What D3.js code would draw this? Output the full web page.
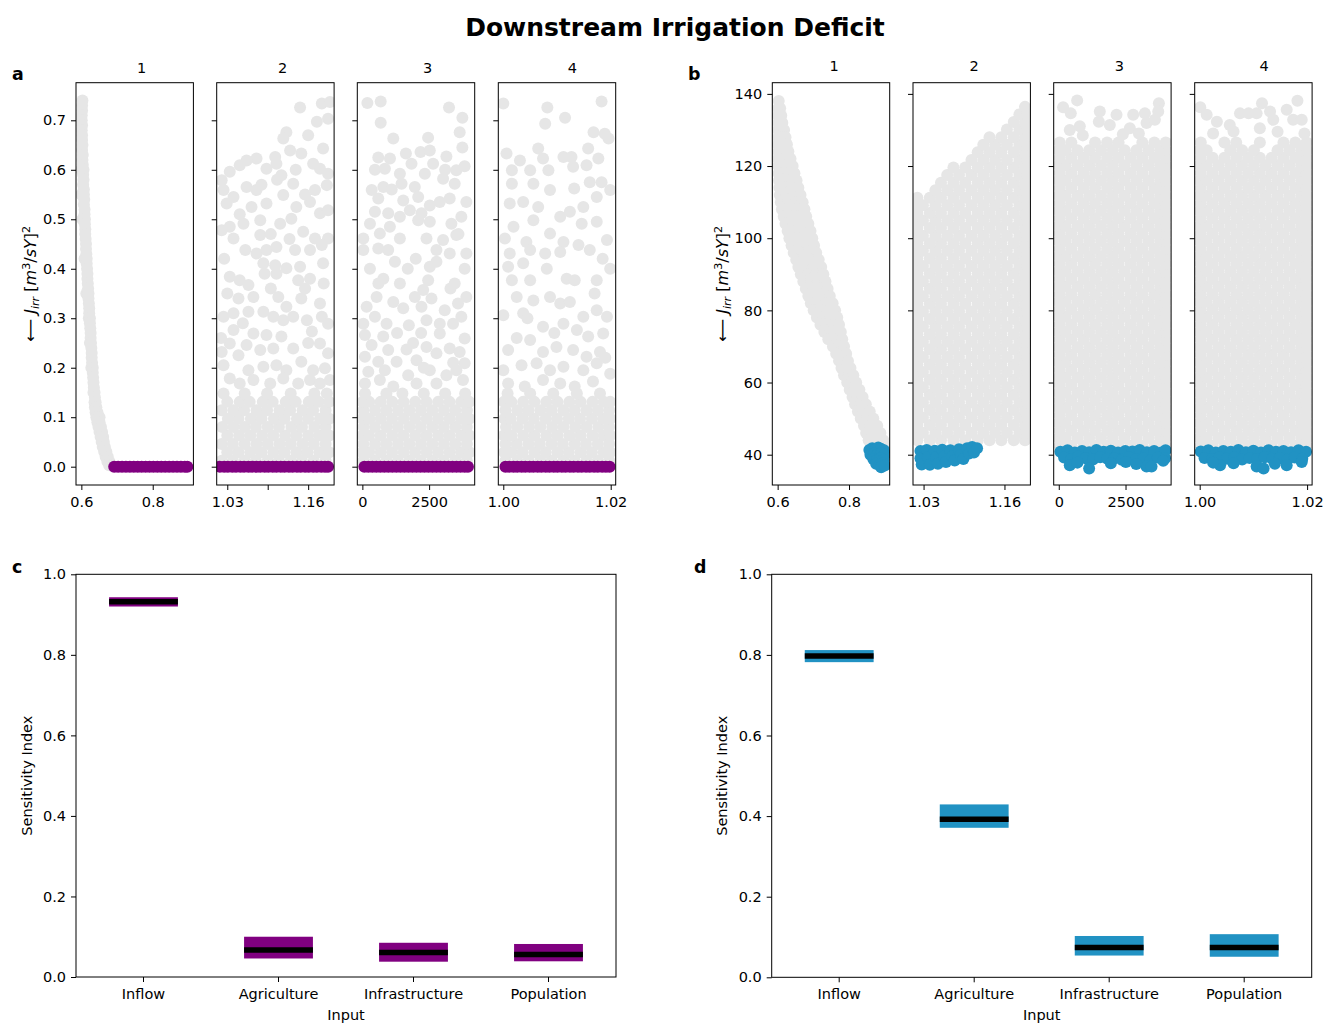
<!DOCTYPE html>
<html>
<head>
<meta charset="utf-8">
<script src="https://cdn.jsdelivr.net/npm/d3@7"></script>
<style>
  body { margin: 0; background: #fff; }
  svg { font-family: "DejaVu Sans", sans-serif; }
</style>
</head>
<body>
<svg id="chart" width="1325" height="1025"></svg>
<script>
// ---------------- data ----------------
const inputs = ['Inflow', 'Agriculture', 'Infrastructure', 'Population'];
const subTitles = ['1', '2', '3', '4'];

// sensitivity index boxes (low, median, high)
const cLow = [0.920, 0.046, 0.038, 0.039];
const cMed = [0.932, 0.067, 0.061, 0.056];
const cHigh = [0.943, 0.100, 0.085, 0.082];
const dLow = [0.782, 0.371, 0.054, 0.051];
const dMed = [0.797, 0.392, 0.074, 0.074];
const dHigh = [0.812, 0.429, 0.1025, 0.107];

const sensTicks = [0, 0.2, 0.4, 0.6, 0.8, 1.0];
const aYTicks = [0, 0.1, 0.2, 0.3, 0.4, 0.5, 0.6, 0.7];
const bYTicks = [40, 60, 80, 100, 120, 140];
const aXTicks = [[0.6, 0.8], [1.03, 1.095, 1.16], [0, 2500], [1.00, 1.02]];
const aXTickLabels = [['0.6', '0.8'], ['1.03', '', '1.16'], ['0', '2500'], ['1.00', '1.02']];
const bXTicks = [[0.6, 0.8], [1.03, 1.16], [0, 2500], [1.00, 1.02]];
const bXTickLabels = [['0.6', '0.8'], ['1.03', '1.16'], ['0', '2500'], ['1.00', '1.02']];

const xDomains = [[0.585, 0.914], [1.013, 1.2017], [-190, 4207], [0.99907, 1.02093]];
const aYDomain = [-0.037, 0.776];
const bYDomain = [31.6, 143.1];

// ---- panel a: grey = J_irr > 0 ; *Zero = x of samples with J_irr = 0 ----
const a1Rows = [[0.74,[0.603]],[0.73,[0.602]],[0.72,[0.602]],[0.71,[0.601]],[0.70,[0.601]],[0.69,[0.602]],[0.68,[0.601]],[0.67,[0.602]],[0.66,[0.602]],[0.65,[0.603]],[0.64,[0.602]],[0.63,[0.604]],[0.62,[0.603]],[0.61,[0.604]],[0.60,[0.6,0.606]],[0.59,[0.605]],[0.58,[0.606]],[0.57,[0.605]],[0.56,[0.607]],[0.55,[0.6,0.607]],[0.54,[0.608]],[0.53,[0.607]],[0.52,[0.609]],[0.51,[0.609]],[0.50,[0.603,0.61]],[0.49,[0.61]],[0.48,[0.611]],[0.47,[0.611]],[0.46,[0.612]],[0.45,[0.613]],[0.44,[0.613]],[0.43,[0.614]],[0.42,[0.609,0.615]],[0.41,[0.615]],[0.40,[0.616]],[0.39,[0.617]],[0.38,[0.617]],[0.37,[0.618]],[0.36,[0.619]],[0.35,[0.614,0.62]],[0.34,[0.62]],[0.33,[0.621]],[0.32,[0.622]],[0.31,[0.622]],[0.30,[0.621,0.624]],[0.29,[0.624]],[0.28,[0.625]],[0.27,[0.626]],[0.26,[0.626]],[0.25,[0.624,0.627]],[0.24,[0.628]],[0.23,[0.629]],[0.22,[0.629]],[0.21,[0.63]],[0.20,[0.628,0.632]],[0.19,[0.632]],[0.18,[0.633]],[0.17,[0.634]],[0.16,[0.635]],[0.15,[0.634,0.637]],[0.14,[0.638]],[0.13,[0.637,0.64]],[0.12,[0.638,0.642]],[0.11,[0.64,0.645]],[0.10,[0.642,0.648,0.651]],[0.09,[0.645,0.651]],[0.08,[0.648,0.655]],[0.07,[0.651,0.658]],[0.06,[0.654,0.661]],[0.05,[0.657,0.663]],[0.04,[0.66,0.666]],[0.03,[0.664,0.67]],[0.02,[0.668,0.674]],[0.01,[0.673,0.679]],[0.003,[0.678,0.684]]];
const a1Zero = [0.692,0.703,0.714,0.725,0.736,0.747,0.758,0.769,0.78,0.791,0.802,0.813,0.824,0.835,0.846,0.857,0.868,0.879,0.89,0.897];

const a2Grey = [[1.147,0.726],[1.182,0.734],[1.195,0.737],[1.192,0.703],[1.174,0.697],[1.16,0.67],[1.125,0.676],[1.12,0.663],[1.184,0.643],[1.131,0.639],[1.149,0.633],[1.107,0.626],[1.077,0.623],[1.061,0.619],[1.05,0.609],[1.034,0.596],[1.021,0.579],[1.168,0.612],[1.179,0.602],[1.192,0.592],[1.093,0.602],[1.109,0.612],[1.117,0.589],[1.136,0.572],[1.19,0.569],[1.171,0.559],[1.061,0.565],[1.077,0.559],[1.04,0.545],[1.024,0.559],[1.029,0.532],[1.069,0.525],[1.093,0.532],[1.12,0.549],[1.141,0.525],[1.163,0.535],[1.179,0.512],[1.192,0.518],[1.115,0.491],[1.133,0.501],[1.083,0.498],[1.056,0.491],[1.021,0.478],[1.034,0.485],[1.04,0.461],[1.083,0.468],[1.152,0.475],[1.171,0.461],[1.192,0.461],[1.059,0.438],[1.077,0.431],[1.093,0.438],[1.109,0.444],[1.139,0.438],[1.163,0.438],[1.182,0.448],[1.088,0.411],[1.107,0.407],[1.125,0.401],[1.147,0.404],[1.184,0.411],[1.034,0.384],[1.05,0.377],[1.109,0.39],[1.163,0.38],[1.144,0.377],[1.064,0.367],[1.048,0.34],[1.072,0.343],[1.112,0.343],[1.125,0.323],[1.149,0.34],[1.179,0.33],[1.024,0.303],[1.04,0.31],[1.064,0.313],[1.088,0.313],[1.104,0.303],[1.12,0.296],[1.136,0.303],[1.158,0.296],[1.182,0.303],[1.192,0.289],[1.04,0.276],[1.072,0.269],[1.093,0.266],[1.117,0.263],[1.166,0.273],[1.034,0.249],[1.061,0.246],[1.083,0.236],[1.104,0.239],[1.136,0.239],[1.179,0.249],[1.021,0.232],[1.048,0.225],[1.192,0.229],[1.024,0.205],[1.064,0.195],[1.088,0.202],[1.109,0.205],[1.125,0.195],[1.149,0.212],[1.168,0.195],[1.187,0.199],[1.034,0.178],[1.05,0.168],[1.072,0.175],[1.099,0.168],[1.12,0.178],[1.144,0.168],[1.163,0.175],[1.179,0.168],[1.195,0.175],[1.025,0.42],[1.03,0.35],[1.1,0.36],[1.155,0.36],[1.185,0.37],[1.1,0.47],[1.05,0.51],[1.13,0.46],[1.155,0.55],[1.085,0.57],[1.02,0.26],[1.055,0.29],[1.16,0.25],[1.09,0.39],[1.11,0.58],[1.14,0.6]];
const a2Rows = [[0.012,[1.021,1.039,1.058,1.076,1.095,1.113,1.132,1.15,1.169,1.188]],[0.029,[1.03,1.048,1.067,1.085,1.104,1.122,1.141,1.159,1.178,1.194]],[0.046,[1.021,1.039,1.058,1.077,1.095,1.114,1.132,1.151,1.169,1.188]],[0.063,[1.03,1.049,1.067,1.086,1.104,1.123,1.141,1.16,1.178,1.194]],[0.080,[1.022,1.04,1.058,1.076,1.095,1.113,1.133,1.15,1.17,1.188]],[0.097,[1.031,1.048,1.068,1.085,1.105,1.122,1.142,1.16,1.179,1.194]],[0.114,[1.021,1.04,1.057,1.077,1.094,1.114,1.131,1.151,1.168,1.188]],[0.131,[1.03,1.05,1.066,1.087,1.103,1.124,1.14,1.161,1.177,1.194]],[0.148,[1.024,1.058,1.094,1.132,1.17,1.19]]];
const a2Zero = [1.018,1.025,1.031,1.038,1.044,1.051,1.057,1.064,1.07,1.077,1.083,1.09,1.096,1.103,1.109,1.116,1.122,1.129,1.135,1.142,1.148,1.155,1.161,1.168,1.174,1.181,1.187,1.192];

const a3Grey = [[187,0.735],[686,0.738],[686,0.695],[1157,0.663],[3245,0.726],[3745,0.705],[3645,0.676],[3745,0.645],[2462,0.665],[595,0.625],[1033,0.623],[1630,0.633],[2178,0.636],[2526,0.639],[3147,0.627],[470,0.6],[843,0.602],[1405,0.592],[1840,0.612],[2650,0.612],[2340,0.592],[3830,0.607],[3519,0.599],[350,0.559],[785,0.565],[1468,0.572],[1965,0.565],[3023,0.582],[3458,0.572],[595,0.542],[1530,0.538],[2090,0.545],[2526,0.528],[2899,0.535],[3272,0.542],[3894,0.535],[470,0.515],[968,0.512],[1778,0.518],[2214,0.512],[3707,0.505],[284,0.491],[1030,0.485],[1405,0.505],[2090,0.498],[2526,0.495],[3334,0.491],[35,0.461],[655,0.471],[1405,0.461],[2402,0.461],[3023,0.458],[3519,0.468],[35,0.438],[595,0.441],[968,0.438],[2775,0.438],[3272,0.431],[3894,0.431],[284,0.4],[785,0.38],[1219,0.414],[1405,0.37],[2526,0.404],[2775,0.414],[2464,0.377],[3831,0.4],[3458,0.37],[2277,0.357],[533,0.343],[160,0.323],[1157,0.333],[1530,0.32],[1965,0.343],[2214,0.323],[2588,0.34],[3085,0.316],[3582,0.33],[3894,0.343],[35,0.289],[470,0.303],[906,0.289],[1741,0.286],[2402,0.296],[2899,0.269],[3396,0.289],[3707,0.303],[97,0.266],[781,0.263],[2899,0.289],[3831,0.259],[346,0.246],[968,0.236],[1654,0.237],[2402,0.242],[2775,0.229],[3272,0.239],[3645,0.232],[97,0.222],[595,0.212],[1281,0.212],[2028,0.215],[3831,0.209],[222,0.192],[843,0.195],[1716,0.185],[2526,0.195],[3147,0.185],[3520,0.195],[97,0.168],[655,0.175],[1157,0.162],[2028,0.168],[2775,0.168],[3769,0.175],[1900,0.25],[2200,0.27],[1300,0.27],[3300,0.36],[1700,0.4],[2000,0.42],[600,0.37],[3600,0.47],[1100,0.56],[3100,0.6],[2300,0.2],[3400,0.21]];
const a3Rows = [[0.012,[40,470,905,1330,1765,2190,2625,3050,3485,3910]],[0.029,[0,255,690,1115,1550,1975,2410,2835,3270,3695,4010]],[0.046,[35,475,900,1335,1760,2195,2620,3055,3480,3915]],[0.063,[5,250,685,1120,1545,1980,2405,2840,3265,3700,4005]],[0.080,[45,470,905,1330,1765,2190,2625,3050,3485,3910]],[0.097,[0,260,690,1115,1550,1975,2410,2835,3270,3695,4005]],[0.114,[40,475,900,1335,1760,2195,2620,3055,3480,3915]],[0.131,[5,255,685,1120,1545,1980,2405,2840,3265,3700,4005]],[0.148,[100,900,1500,2300,3100,3850]]];
const a3Zero = [75,225,375,525,675,825,975,1125,1275,1425,1575,1725,1875,2025,2175,2325,2475,2625,2775,2925,3075,3225,3375,3525,3675,3825,3955];

const a4Grey = [[1.0,0.734],[1.0082,0.726],[1.0078,0.693],[1.0115,0.705],[1.0183,0.738],[1.0168,0.676],[1.0189,0.673],[1.0196,0.663],[1.0158,0.643],[1.0065,0.643],[1.0006,0.633],[1.0031,0.619],[1.0074,0.623],[1.0112,0.626],[1.0127,0.626],[1.0016,0.599],[1.005,0.599],[1.0084,0.599],[1.013,0.606],[1.0155,0.609],[1.0177,0.623],[1.0016,0.572],[1.0056,0.572],[1.0087,0.559],[1.0132,0.562],[1.0161,0.575],[1.0183,0.575],[1.0199,0.559],[1.0012,0.532],[1.0037,0.535],[1.0065,0.525],[1.0124,0.515],[1.0149,0.525],[1.0174,0.545],[1.0019,0.485],[1.0056,0.498],[1.0106,0.505],[1.0146,0.491],[1.0174,0.495],[1.0003,0.461],[1.0043,0.454],[1.0087,0.471],[1.0112,0.454],[1.014,0.448],[1.0193,0.458],[1.0012,0.431],[1.005,0.438],[1.0078,0.431],[1.0106,0.434],[1.0161,0.438],[1.0199,0.4],[1.0009,0.404],[1.0037,0.411],[1.0081,0.4],[1.0118,0.38],[1.0133,0.377],[1.0174,0.377],[1.0016,0.377],[1.0025,0.343],[1.005,0.377],[1.0056,0.336],[1.0087,0.343],[1.0106,0.33],[1.0124,0.333],[1.0149,0.303],[1.0174,0.316],[1.0193,0.303],[1.0,0.306],[1.0037,0.31],[1.0074,0.283],[1.0112,0.289],[1.0137,0.276],[1.0158,0.263],[1.0186,0.269],[1.0009,0.236],[1.005,0.256],[1.0074,0.232],[1.0099,0.242],[1.013,0.236],[1.0155,0.222],[1.018,0.232],[1.0,0.195],[1.0034,0.205],[1.0062,0.209],[1.0087,0.195],[1.0112,0.202],[1.0149,0.195],[1.0174,0.209],[1.0199,0.188],[1.0009,0.168],[1.004,0.162],[1.0074,0.175],[1.0106,0.168],[1.0133,0.162],[1.0167,0.172],[1.0025,0.26],[1.017,0.35],[1.0095,0.27],[1.019,0.22],[1.0045,0.3],[1.0185,0.42]];
const a4Rows = [[0.012,[1.0004,1.0026,1.0047,1.0069,1.009,1.0112,1.0133,1.0155,1.0176,1.0197]],[0.029,[1.0002,1.0015,1.0036,1.0058,1.0079,1.0101,1.0122,1.0144,1.0165,1.0187,1.0199]],[0.046,[1.0004,1.0025,1.0047,1.0068,1.009,1.0111,1.0133,1.0154,1.0176,1.0197]],[0.063,[1.0001,1.0015,1.0037,1.0058,1.008,1.0101,1.0123,1.0144,1.0166,1.0187,1.0199]],[0.080,[1.0005,1.0026,1.0048,1.0069,1.0091,1.0112,1.0134,1.0155,1.0177,1.0197]],[0.097,[1.0002,1.0014,1.0036,1.0057,1.0079,1.01,1.0122,1.0143,1.0165,1.0186,1.0199]],[0.114,[1.0004,1.0026,1.0047,1.0069,1.009,1.0112,1.0133,1.0155,1.0176,1.0197]],[0.131,[1.0001,1.0015,1.0037,1.0058,1.008,1.0101,1.0123,1.0144,1.0166,1.0187,1.0199]],[0.148,[1.0008,1.005,1.0093,1.0137,1.018]]];
const a4Zero = [1.0004,1.0011,1.0019,1.0026,1.0034,1.0041,1.0049,1.0056,1.0064,1.0071,1.0079,1.0086,1.0094,1.0101,1.0109,1.0116,1.0124,1.0131,1.0139,1.0146,1.0154,1.0161,1.0169,1.0176,1.0184,1.0191,1.0198];

// ---- panel b: grey = all samples, blue = selected samples ----
const b1Rows = [[138,[0.603]],[136,[0.602,0.607]],[134,[0.601,0.61]],[132,[0.602,0.613]],[130,[0.601,0.611,0.618]],[128,[0.602,0.613,0.622]],[126,[0.601,0.614,0.626]],[124,[0.602,0.616,0.63]],[122,[0.601,0.618,0.636]],[120,[0.602,0.615,0.628,0.642]],[118,[0.603,0.618,0.632,0.647]],[116,[0.604,0.62,0.636,0.653]],[114,[0.605,0.622,0.64,0.658]],[112,[0.606,0.625,0.645,0.664]],[110,[0.609,0.629,0.65,0.67]],[108,[0.612,0.633,0.654,0.675]],[106,[0.617,0.638,0.659,0.68]],[104,[0.622,0.643,0.665,0.686]],[102,[0.628,0.649,0.67,0.692]],[100,[0.633,0.654,0.676,0.697]],[98,[0.639,0.66,0.681,0.702]],[96,[0.645,0.666,0.687,0.708]],[94,[0.652,0.673,0.694,0.715]],[92,[0.658,0.68,0.701,0.722]],[90,[0.665,0.686,0.707,0.728]],[88,[0.672,0.693,0.713,0.734]],[86,[0.679,0.699,0.72,0.74]],[84,[0.686,0.706,0.726,0.746]],[82,[0.693,0.713,0.734,0.754]],[80,[0.701,0.721,0.741,0.761]],[78,[0.71,0.729,0.748,0.767]],[76,[0.72,0.737,0.755,0.772]],[74,[0.731,0.746,0.762,0.777]],[72,[0.742,0.755,0.768,0.781]],[70,[0.755,0.77,0.786]],[68,[0.764,0.78,0.792]],[66,[0.772,0.786,0.797]],[64,[0.779,0.793,0.804]],[62,[0.786,0.8,0.812]],[60,[0.795,0.808,0.82]],[58,[0.802,0.816,0.829]],[56,[0.81,0.824,0.838]],[54,[0.817,0.832,0.847]],[52,[0.825,0.842,0.858]],[50,[0.833,0.85,0.868]],[48,[0.842,0.86,0.879]],[46,[0.848,0.868,0.888]],[44,[0.855,0.876,0.896]],[42.5,[0.862,0.884,0.905]]];
const b1Blue = [[0.857,41.3],[0.865,41.8],[0.873,41.5],[0.882,42],[0.89,41.6],[0.898,41.2],[0.86,40],[0.87,40.3],[0.88,40],[0.89,40.4],[0.9,40],[0.868,38.8],[0.878,38.5],[0.888,39],[0.897,38.6],[0.876,37.5],[0.886,37.2],[0.895,37.6],[0.89,36.5],[0.9,37]];

const b2ColsA = [1.02,1.04,1.058,1.078,1.097,1.117,1.136,1.155,1.175,1.193];
const b2ColsB = [1.019,1.029,1.049,1.068,1.087,1.107,1.126,1.145,1.164,1.184,1.196];
const b2Rows = [[44,b2ColsA],[46.1,b2ColsB],[48.2,b2ColsA],[50.3,b2ColsB],[52.4,b2ColsA],[54.5,b2ColsB],[56.6,b2ColsA],[58.7,b2ColsB],[60.8,b2ColsA],[62.9,b2ColsB],[65,b2ColsA],[67.1,b2ColsB],[69.2,b2ColsA],[71.3,b2ColsB],[73.4,b2ColsA],[75.5,b2ColsB],[77.6,b2ColsA],[79.7,b2ColsB],[81.8,b2ColsA],[83.9,b2ColsB],[86,b2ColsA],[88.1,b2ColsB],[90.2,b2ColsA],[92.3,b2ColsB],[94.4,b2ColsA],[96.5,b2ColsB],[98.6,b2ColsA],[100.7,b2ColsB],[102.8,b2ColsA],[104.9,b2ColsB],[107,b2ColsA],[109.1,b2ColsB],[111.2,b2ColsA],
  [113.3,[1.049,1.068,1.087,1.107,1.126,1.145,1.164,1.184,1.196]],[115.4,[1.058,1.078,1.097,1.117,1.136,1.155,1.175,1.193]],[117.5,[1.068,1.087,1.107,1.126,1.145,1.164,1.184,1.196]],[119.6,[1.078,1.097,1.117,1.136,1.155,1.175,1.193]],[121.7,[1.107,1.126,1.145,1.164,1.184,1.196]],[123.8,[1.117,1.136,1.155,1.175,1.193]],[125.9,[1.126,1.145,1.164,1.184,1.196]],[128,[1.136,1.155,1.175,1.193]],[130.1,[1.164,1.184,1.196]],[132.2,[1.175,1.193]],[134.3,[1.184,1.196]],[136.4,[1.193]]];
const b2Blue = [[1.025,41],[1.025,39],[1.027,37.3],[1.035,41.3],[1.037,39.2],[1.04,37.2],[1.048,41.1],[1.05,39.3],[1.053,37.5],[1.06,41.4],[1.063,39.5],[1.066,38],[1.073,41.2],[1.076,39.6],[1.08,38.4],[1.087,41.5],[1.09,39.9],[1.094,38.8],[1.1,41.8],[1.103,40.3],[1.108,42.1],[1.111,40.6],[1.116,41.8]];

const b3ColsA = [35,470,925,1360,1810,2240,2695,3130,3580,4005];
const b3ColsB = [0,255,700,1140,1585,2025,2470,2910,3355,3795,4007];
const b3Rows = [[42.5,b3ColsA],[44.6,b3ColsB],[46.7,b3ColsA],[48.8,b3ColsB],[50.9,b3ColsA],[53,b3ColsB],[55.1,b3ColsA],[57.2,b3ColsB],[59.3,b3ColsA],[61.4,b3ColsB],[63.5,b3ColsA],[65.6,b3ColsB],[67.7,b3ColsA],[69.8,b3ColsB],[71.9,b3ColsA],[74,b3ColsB],[76.1,b3ColsA],[78.2,b3ColsB],[80.3,b3ColsA],[82.4,b3ColsB],[84.5,b3ColsA],[86.6,b3ColsB],[88.7,b3ColsA],[90.8,b3ColsB],[92.9,b3ColsA],[95,b3ColsB],[97.1,b3ColsA],[99.2,b3ColsB],[101.3,b3ColsA],[103.4,b3ColsB],[105.5,b3ColsA],[107.6,b3ColsB],[109.7,b3ColsA],[111.8,b3ColsB],[113.9,b3ColsA],[116,b3ColsB],[118.1,b3ColsA],[120.2,b3ColsB],[122.3,b3ColsA],[124.4,[0,255,700,1140,1585,2025,2470,2910,3355,3795,4007]],[126.5,[35,470,1360,1810,2240,3130,3580,4005]]];
const b3Top = [[162,136.3],[688,138.2],[450,134.6],[1537,135.1],[1500,132.3],[2163,134.2],[1912,131.4],[2787,134.2],[3225,134.6],[3287,131.9],[3750,137.4],[3725,135.1],[3600,132.8],[787,131],[412,130],[2662,130.5],[900,128.5],[2400,128.8],[3000,129]];
const b3Blue = [[60,40.8],[330,41.2],[600,40.6],[870,41],[1140,40.7],[1410,41.3],[1680,40.8],[1950,41.1],[2220,40.6],[2490,41],[2760,40.9],[3030,41.3],[3300,40.7],[3570,41],[3840,40.6],[4000,41.2],[200,39.2],[470,38.8],[740,39.4],[1010,39],[1280,38.7],[1550,39.3],[1820,38.9],[2090,39.1],[2360,38.6],[2630,39.3],[2900,38.8],[3170,39],[3440,38.5],[3710,39.2],[3980,39],[412,37.1],[1137,36.2],[1950,37.6],[2512,38],[3287,36.7],[3475,36.7],[3912,38.3],[700,37.8],[2900,37.4]];

const b4ColsA = [1.0002,1.0024,1.0046,1.0068,1.009,1.0112,1.0134,1.0156,1.0178,1.0199];
const b4ColsB = [1.0,1.0013,1.0035,1.0057,1.0079,1.0101,1.0123,1.0145,1.0167,1.0189,1.02];
const b4Rows = [[42.5,b4ColsA],[44.6,b4ColsB],[46.7,b4ColsA],[48.8,b4ColsB],[50.9,b4ColsA],[53,b4ColsB],[55.1,b4ColsA],[57.2,b4ColsB],[59.3,b4ColsA],[61.4,b4ColsB],[63.5,b4ColsA],[65.6,b4ColsB],[67.7,b4ColsA],[69.8,b4ColsB],[71.9,b4ColsA],[74,b4ColsB],[76.1,b4ColsA],[78.2,b4ColsB],[80.3,b4ColsA],[82.4,b4ColsB],[84.5,b4ColsA],[86.6,b4ColsB],[88.7,b4ColsA],[90.8,b4ColsB],[92.9,b4ColsA],[95,b4ColsB],[97.1,b4ColsA],[99.2,b4ColsB],[101.3,b4ColsA],[103.4,b4ColsB],[105.5,b4ColsA],[107.6,b4ColsB],[109.7,b4ColsA],[111.8,b4ColsB],[113.9,b4ColsA],[116,b4ColsB],[118.1,b4ColsA],[120.2,b4ColsB],[122.3,b4ColsA],[124.4,[1.0,1.0013,1.0057,1.0079,1.0101,1.0145,1.0167,1.0189,1.02]],[126.5,[1.0002,1.0046,1.0068,1.0112,1.0156,1.0178,1.0199]]];
const b4Top = [[1.0001,136.3],[1.0013,134.2],[1.0032,132.3],[1.0056,131.4],[1.0075,134.6],[1.0091,134.6],[1.0106,134.6],[1.0116,137.4],[1.0112,130.5],[1.0131,135.1],[1.0137,132.8],[1.0162,135.6],[1.0182,138.1],[1.0174,132.8],[1.019,132.8],[1.0063,129.6],[1.0025,129],[1.0145,129.5],[1.0195,129]];
const b4Blue = [[1.0002,40.9],[1.0016,41.2],[1.003,40.6],[1.0044,41],[1.0058,40.8],[1.0072,41.3],[1.0086,40.7],[1.01,41.1],[1.0114,40.6],[1.0128,41.2],[1.0142,40.8],[1.0156,41],[1.017,40.7],[1.0184,41.2],[1.0198,40.8],[1.0009,39.1],[1.0023,38.8],[1.0037,39.3],[1.0051,38.9],[1.0065,39.2],[1.0079,38.7],[1.0093,39.1],[1.0107,38.8],[1.0121,39.3],[1.0135,38.9],[1.0149,39],[1.0163,38.6],[1.0177,39.2],[1.0191,38.9],[1.0038,37.1],[1.0063,37.6],[1.0106,36.7],[1.0119,36.2],[1.0162,37.1],[1.019,38],[1.0025,37.8],[1.014,37.5]];

// ---------------- layout ----------------
const FS = 14.5;
const GREY = '#e6e6e6', PURPLE = '#800080', BLUE = '#2192c3';
const R = 6;
const SUB_W = 117.4;

const svg = d3.select('#chart');

let rowsToPoints = (rows) => rows.flatMap(([y, xs]) => xs.map(x => [x, y]));
let zeroPoints = (xs) => xs.map(x => [x, 0]);

let styleAxis = (g) => {
    g.select('.domain').remove();
    g.selectAll('line').attr('stroke', '#000').attr('stroke-width', 1);
    g.selectAll('text').attr('fill', '#000').style('font-size', FS + 'px')
        .style('font-family', '"DejaVu Sans", sans-serif');
};

let drawScatterGroup = (cfg) => {
    cfg.lefts.forEach((left, i) => {
        let x = d3.scaleLinear().domain(xDomains[i]).range([left, left + SUB_W]);
        let y = d3.scaleLinear().domain(cfg.yDomain).range([cfg.bottom, cfg.top]);
        let clipId = cfg.id + '-clip-' + i;
        svg.append('clipPath').attr('id', clipId).append('rect')
            .attr('x', left).attr('y', cfg.top)
            .attr('width', SUB_W).attr('height', cfg.bottom - cfg.top);

        let dots = svg.append('g').attr('clip-path', 'url(#' + clipId + ')');
        dots.selectAll('circle.grey').data(cfg.grey[i]).enter().append('circle')
            .attr('class', 'grey')
            .attr('cx', d => x(d[0])).attr('cy', d => y(d[1])).attr('r', R)
            .attr('fill', GREY);
        dots.selectAll('circle.hi').data(cfg.hi[i]).enter().append('circle')
            .attr('class', 'hi')
            .attr('cx', d => x(d[0])).attr('cy', d => y(d[1])).attr('r', R)
            .attr('fill', cfg.hiColor);

        let xAxis = d3.axisBottom(x).tickValues(cfg.xTicks[i])
            .tickFormat((d, j) => cfg.xTickLabels[i][j]).tickSize(5).tickPadding(6.5);
        svg.append('g').attr('transform', 'translate(0,' + cfg.bottom + ')').call(xAxis).call(styleAxis);

        let yAxis = d3.axisLeft(y).tickValues(cfg.yTicks)
            .tickFormat(i === 0 ? cfg.yFormat : '').tickSize(5).tickPadding(5);
        svg.append('g').attr('transform', 'translate(' + left + ',0)').call(yAxis).call(styleAxis);

        svg.append('rect').attr('x', left).attr('y', cfg.top)
            .attr('width', SUB_W).attr('height', cfg.bottom - cfg.top)
            .attr('fill', 'none').attr('stroke', '#000').attr('stroke-width', 1);

        svg.append('text').attr('x', cfg.titleX[i]).attr('y', cfg.titleY)
            .attr('text-anchor', 'middle').style('font-size', FS + 'px').text(subTitles[i]);
    });

    // y label: <- J_irr [m^3/sY]^2
    let fs = 16;
    let cy = (cfg.top + cfg.bottom) / 2;
    let t = svg.append('text')
        .attr('transform', 'translate(' + cfg.labelX + ',' + cy + ') rotate(-90)')
        .attr('text-anchor', 'middle').style('font-size', fs + 'px');
    t.append('tspan').text('\u27F5 ');
    t.append('tspan').style('font-style', 'italic').text('J');
    t.append('tspan').style('font-style', 'italic').style('font-size', (fs * 0.7) + 'px').attr('dy', 3).text('irr');
    t.append('tspan').attr('dy', -3).text(' [');
    t.append('tspan').style('font-style', 'italic').text('m');
    t.append('tspan').style('font-size', (fs * 0.7) + 'px').attr('dy', -6).text('3');
    t.append('tspan').attr('dy', 6).text('/');
    t.append('tspan').style('font-style', 'italic').text('sY');
    t.append('tspan').text(']');
    t.append('tspan').style('font-size', (fs * 0.7) + 'px').attr('dy', -6).text('2');

    svg.append('text').attr('x', cfg.letterX).attr('y', 80)
        .style('font-size', '17.4px').style('font-weight', 'bold').text(cfg.letter);
};

let drawSensPanel = (cfg) => {
    let x = d3.scaleBand().domain(inputs).range([cfg.left, cfg.right]);
    let y = d3.scaleLinear().domain([0, 1]).range([cfg.bottom, cfg.top]);
    let boxW = x.bandwidth() * 0.51;

    svg.selectAll('rect.box-' + cfg.letter).data(inputs).enter().append('rect')
        .attr('class', 'box-' + cfg.letter)
        .attr('x', d => x(d) + (x.bandwidth() - boxW) / 2)
        .attr('y', (d, i) => y(cfg.high[i]))
        .attr('width', boxW)
        .attr('height', (d, i) => y(cfg.low[i]) - y(cfg.high[i]))
        .attr('fill', cfg.color);

    svg.selectAll('line.med-' + cfg.letter).data(inputs).enter().append('line')
        .attr('class', 'med-' + cfg.letter)
        .attr('x1', d => x(d) + (x.bandwidth() - boxW) / 2)
        .attr('x2', d => x(d) + (x.bandwidth() + boxW) / 2)
        .attr('y1', (d, i) => y(cfg.med[i]))
        .attr('y2', (d, i) => y(cfg.med[i]))
        .attr('stroke', '#000').attr('stroke-width', 5.5);

    svg.append('g').attr('transform', 'translate(0,' + cfg.bottom + ')')
        .call(d3.axisBottom(x).tickSize(5).tickPadding(6.5)).call(styleAxis);
    svg.append('g').attr('transform', 'translate(' + cfg.left + ',0)')
        .call(d3.axisLeft(y).tickValues(sensTicks).tickFormat(d3.format('.1f')).tickSize(5).tickPadding(5))
        .call(styleAxis);

    svg.append('rect').attr('x', cfg.left).attr('y', cfg.top)
        .attr('width', cfg.right - cfg.left).attr('height', cfg.bottom - cfg.top)
        .attr('fill', 'none').attr('stroke', '#000').attr('stroke-width', 1);

    svg.append('text')
        .attr('transform', 'translate(' + cfg.labelX + ',' + ((cfg.top + cfg.bottom) / 2) + ') rotate(-90)')
        .attr('text-anchor', 'middle').style('font-size', FS + 'px').text('Sensitivity Index');
    svg.append('text').attr('x', (cfg.left + cfg.right) / 2).attr('y', 1020)
        .attr('text-anchor', 'middle').style('font-size', FS + 'px').text('Input');
    svg.append('text').attr('x', cfg.letterX).attr('y', 573)
        .style('font-size', '17.4px').style('font-weight', 'bold').text(cfg.letter);
};

// ---------------- draw ----------------
svg.append('text').attr('x', 675).attr('y', 36).attr('text-anchor', 'middle')
    .style('font-size', '25px').style('font-weight', 'bold').text('Downstream Irrigation Deficit');

drawScatterGroup({
    id: 'a', letter: 'a', letterX: 12, labelX: 36, titleY: 73,
    lefts: [76, 216.7, 357.3, 498.3], top: 82.7, bottom: 485,
    titleX: [141.7, 282.7, 427.7, 572.3],
    yDomain: aYDomain, yTicks: aYTicks, yFormat: d3.format('.1f'),
    xTicks: aXTicks, xTickLabels: aXTickLabels,
    grey: [rowsToPoints(a1Rows), a2Grey.concat(rowsToPoints(a2Rows)), a3Grey.concat(rowsToPoints(a3Rows)), a4Grey.concat(rowsToPoints(a4Rows))],
    hi: [zeroPoints(a1Zero), zeroPoints(a2Zero), zeroPoints(a3Zero), zeroPoints(a4Zero)],
    hiColor: PURPLE
});

drawScatterGroup({
    id: 'b', letter: 'b', letterX: 688, labelX: 728, titleY: 70.5,
    lefts: [772.3, 913, 1053.7, 1194.7], top: 82.7, bottom: 485,
    titleX: [834, 974, 1119.3, 1264],
    yDomain: bYDomain, yTicks: bYTicks, yFormat: d3.format('d'),
    xTicks: bXTicks, xTickLabels: bXTickLabels,
    grey: [rowsToPoints(b1Rows), rowsToPoints(b2Rows), rowsToPoints(b3Rows).concat(b3Top), rowsToPoints(b4Rows).concat(b4Top)],
    hi: [b1Blue, b2Blue, b3Blue, b4Blue],
    hiColor: BLUE
});

drawSensPanel({
    letter: 'c', letterX: 12, labelX: 31.5, left: 76, right: 616, top: 574.3, bottom: 977,
    low: cLow, med: cMed, high: cHigh, color: PURPLE
});
drawSensPanel({
    letter: 'd', letterX: 694, labelX: 727.3, left: 771.7, right: 1311.7, top: 574.3, bottom: 977.3,
    low: dLow, med: dMed, high: dHigh, color: BLUE
});
</script>
</body>
</html>
